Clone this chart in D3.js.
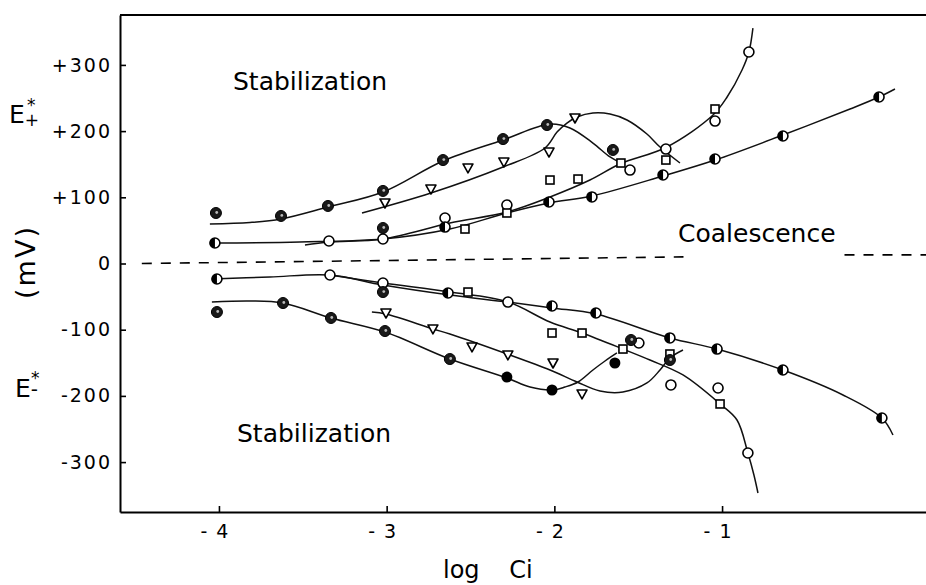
<!DOCTYPE html>
<html><head><meta charset="utf-8">
<script src="https://cdn.jsdelivr.net/npm/d3@7/dist/d3.min.js"></script>
<style>
body{margin:0;background:#fff}
svg{display:block;background:#fff}
text{font-family:"DejaVu Sans",sans-serif;fill:#000}
</style>
</head><body>
<svg id="c" width="926" height="585"></svg>
<script>
// ---------- axis ticks ----------
const xTicks = [-4, -3, -2, -1];
const xTickLabels = ["-4", "-3", "-2", "-1"];
const yTicks = [300, 200, 100, 0, -100, -200, -300];
const yTickLabels = ["+300", "+200", "+100", "0", "-100", "-200", "-300"];

// ---------- fitted curves (log Ci, mV) ----------
const curveAPosX = [-4.054, -3.815, -3.630, -3.350, -3.022, -2.664, -2.306, -2.026, -1.907, -1.770, -1.668, -1.591];
const curveAPosY = [59.7, 62.0, 67.2, 85.3, 108.0, 154.8, 186.6, 210.7, 204.7, 182.0, 160.9, 150.3];
const curveTPosX = [-3.147, -2.736, -2.306, -2.056, -1.984, -1.925, -1.865, -1.770, -1.668, -1.567, -1.448, -1.370, -1.251];
const curveTPosY = [76.3, 106.5, 145.8, 174.5, 198.6, 212.2, 221.3, 227.3, 225.8, 216.8, 195.6, 176.0, 151.8];
const curveOPosX = [-3.487, -3.344, -3.022, -2.623, -2.283, -2.026, -1.788, -1.609, -1.329, -1.054, -0.970, -0.881, -0.840, -0.816];
const curveOPosY = [27.9, 32.5, 37.0, 61.2, 77.8, 100.5, 126.1, 150.3, 176.0, 224.3, 251.5, 292.3, 319.5, 355.7];
const curveHPosX = [-4.024, -3.517, -3.022, -2.623, -2.283, -2.032, -1.776, -1.352, -1.042, -0.637, -0.237, -0.064, 0.031];
const curveHPosY = [31.0, 32.5, 37.0, 52.1, 76.3, 91.4, 102.0, 132.2, 156.3, 194.1, 233.4, 251.5, 263.6];

const curveFNegX = [-4.042, -3.815, -3.618, -3.332, -3.010, -2.623, -2.283, -2.145, -2.014, -1.937, -1.859, -1.770, -1.698, -1.627];
const curveFNegY = [-58.2, -56.6, -59.7, -82.3, -103.5, -144.3, -173.0, -186.6, -191.1, -186.6, -179.0, -160.9, -147.3, -135.2];
const curveTNegX = [-3.088, -3.004, -2.724, -2.623, -2.265, -2.026, -1.865, -1.728, -1.591, -1.448, -1.370, -1.311, -1.233];
const curveTNegY = [-73.3, -76.3, -98.9, -106.5, -138.2, -160.9, -179.0, -192.6, -194.1, -180.5, -160.9, -142.7, -130.7];
const curveONegX = [-3.338, -3.022, -2.623, -2.277, -2.026, -1.835, -1.591, -1.430, -1.233, -1.012, -0.911, -0.846, -0.810, -0.786];
const curveONegY = [-17.4, -29.5, -43.1, -58.2, -88.4, -105.0, -129.2, -145.8, -168.4, -212.2, -236.4, -286.3, -319.5, -346.7];
const curveHNegX = [-4.042, -3.696, -3.338, -3.022, -2.623, -2.277, -2.014, -1.752, -1.311, -1.030, -0.637, -0.279, -0.047, 0.019];
const curveHNegY = [-23.4, -20.4, -17.4, -32.5, -47.6, -58.2, -67.2, -76.3, -112.5, -129.2, -160.9, -198.6, -233.4, -259.1];

// ---------- dashed reference line ----------
const dashLeftX = [-4.46, -1.23];
const dashLeftY = [0, 10];
const dashRightX = [-0.27, 0.22];
const dashRightY = [13, 13];

// ---------- data points by symbol ----------
const hatchedX = [-4.018, -3.630, -3.350, -3.022, -2.664, -2.306, -2.044, -1.651, -3.022,
                  -4.012, -3.618, -3.332, -3.010, -2.623, -3.022, -1.543, -1.311];
const hatchedY = [76.3, 71.8, 86.9, 109.6, 156.3, 188.0, 209.2, 171.5, 53.6,
                  -73.3, -59.7, -82.3, -102.0, -144.3, -43.1, -115.6, -145.8];
const filledX = [-2.283, -2.014, -1.639];
const filledY = [-171.5, -191.1, -150.3];
const halfX = [-4.024, -2.652, -2.032, -1.776, -1.352, -1.042, -0.637, -0.064,
               -4.012, -2.634, -2.014, -1.752, -1.311, -1.030, -0.637, -0.047];
const halfY = [31.0, 55.1, 92.9, 100.5, 133.7, 157.9, 192.6, 251.5,
               -23.4, -44.6, -64.2, -74.8, -112.5, -129.2, -160.9, -233.4];
const openX = [-3.344, -3.022, -2.652, -2.283, -1.549, -1.335, -1.042, -0.840,
               -3.338, -3.022, -2.277, -1.496, -1.305, -1.024, -0.846];
const openY = [34.0, 37.0, 68.7, 88.4, 141.2, 172.9, 215.2, 319.5,
               -17.4, -29.5, -58.2, -120.1, -183.5, -188.1, -286.3];
const squareX = [-2.533, -2.283, -2.026, -1.859, -1.603, -1.335, -1.042,
                 -2.515, -2.014, -1.835, -1.591, -1.311, -1.012];
const squareY = [52.1, 76.3, 126.1, 127.6, 151.8, 156.3, 233.4,
                 -43.1, -105.0, -105.0, -129.2, -136.7, -212.2];
const triX = [-3.010, -2.736, -2.515, -2.301, -2.032, -1.877,
              -3.004, -2.724, -2.491, -2.277, -2.008, -1.835];
const triY = [91.4, 112.5, 144.3, 153.3, 168.4, 219.8,
              -74.8, -98.9, -126.1, -138.2, -150.3, -197.1];

// ---------- region labels ----------
const regionLabels = ["Stabilization", "Coalescence", "Stabilization"];

// ================= drawing =================
const svg = d3.select("#c");
const x = d3.scaleLinear().domain([-4.59, 0.216]).range([120, 926]);
const y = d3.scaleLinear().domain([-375.4, 375.4]).range([512, 15]);
const zip = (a, b) => a.map((v, i) => [v, b[i]]);

// axes
const axL = svg.append("g").attr("transform", "translate(120,0)")
  .call(d3.axisLeft(y).tickValues(yTicks).tickFormat((d, i) => yTickLabels[i])
        .tickSizeInner(-6).tickSizeOuter(0).tickPadding(8));
axL.attr("font-family", null).attr("font-size", null);
axL.selectAll("text").style("font-size", "19px").style("letter-spacing", "2px");

const axB = svg.append("g").attr("transform", "translate(0,512)")
  .call(d3.axisBottom(x).tickValues(xTicks).tickFormat((d, i) => xTickLabels[i])
        .tickSizeInner(-6).tickSizeOuter(0).tickPadding(13));
axB.attr("font-family", null).attr("font-size", null);
axB.selectAll("text").style("font-size", "19px").style("letter-spacing", "9px")
  .attr("text-anchor", "end").attr("dx", 18);

svg.selectAll(".domain").attr("stroke", "#000").attr("stroke-width", 2);
svg.selectAll(".tick line").attr("stroke", "#000").attr("stroke-width", 1.6);

// top frame line
svg.append("line").attr("x1", x.range()[0]).attr("x2", x.range()[1])
  .attr("y1", y.range()[1]).attr("y2", y.range()[1])
  .attr("stroke", "#000").attr("stroke-width", 2);

// dashed line
const lin = d3.line().x(d => x(d[0])).y(d => y(d[1]));
[[dashLeftX, dashLeftY], [dashRightX, dashRightY]].forEach(([a, b]) => {
  svg.append("path").attr("d", lin(zip(a, b))).attr("fill", "none")
    .attr("stroke", "#000").attr("stroke-width", 1.6).attr("stroke-dasharray", "10,9");
});

// fitted curves
const smooth = d3.line().x(d => x(d[0])).y(d => y(d[1])).curve(d3.curveCatmullRom.alpha(0.5));
[[curveAPosX, curveAPosY], [curveTPosX, curveTPosY], [curveOPosX, curveOPosY], [curveHPosX, curveHPosY],
 [curveFNegX, curveFNegY], [curveTNegX, curveTNegY], [curveONegX, curveONegY], [curveHNegX, curveHNegY]]
.forEach(([a, b]) => {
  svg.append("path").attr("d", smooth(zip(a, b))).attr("fill", "none")
    .attr("stroke", "#111").attr("stroke-width", 1.5);
});

// markers
const R = 5;
const g = svg.append("g");
g.selectAll(".open").data(zip(openX, openY)).join("circle")
  .attr("cx", d => x(d[0])).attr("cy", d => y(d[1])).attr("r", R)
  .attr("fill", "#fff").attr("stroke", "#000").attr("stroke-width", 1.6);
g.selectAll(".sq").data(zip(squareX, squareY)).join("rect")
  .attr("x", d => x(d[0]) - 4).attr("y", d => y(d[1]) - 4).attr("width", 8).attr("height", 8)
  .attr("fill", "#fff").attr("stroke", "#000").attr("stroke-width", 1.6);
g.selectAll(".tri").data(zip(triX, triY)).join("path")
  .attr("d", d => { const cx = x(d[0]), cy = y(d[1]);
    return `M${cx - 5},${cy - 4}L${cx + 5},${cy - 4}L${cx},${cy + 5}Z`; })
  .attr("fill", "#fff").attr("stroke", "#000").attr("stroke-width", 1.6).attr("stroke-linejoin", "round");
const hg = g.selectAll(".half").data(zip(halfX, halfY)).join("g")
  .attr("transform", d => `translate(${x(d[0])},${y(d[1])})`);
hg.append("circle").attr("r", R).attr("fill", "#fff").attr("stroke", "#000").attr("stroke-width", 1.6);
hg.append("path").attr("d", `M0,${-R}A${R},${R} 0 0 0 0,${R}Z`).attr("fill", "#000");
const hh = g.selectAll(".hat").data(zip(hatchedX, hatchedY)).join("g")
  .attr("transform", d => `translate(${x(d[0])},${y(d[1])})`);
hh.append("circle").attr("r", 5.5).attr("fill", "#1a1a1a").attr("stroke", "#000").attr("stroke-width", 1);
hh.append("circle").attr("r", 1.4).attr("cx", 0.8).attr("cy", -0.5).attr("fill", "#bbb");
g.selectAll(".fill").data(zip(filledX, filledY)).join("circle")
  .attr("cx", d => x(d[0])).attr("cy", d => y(d[1])).attr("r", 5.5).attr("fill", "#000");

// region labels
svg.append("text").attr("x", 233).attr("y", 90).style("font-size", "25px").text(regionLabels[0]);
svg.append("text").attr("x", 678).attr("y", 242).style("font-size", "25px").text(regionLabels[1]);
svg.append("text").attr("x", 237).attr("y", 442).style("font-size", "25px").text(regionLabels[2]);

// axis titles
svg.append("text").attr("x", 443).attr("y", 578).style("font-size", "24px")
  .style("word-spacing", "22px").text("log Ci");
svg.append("text").attr("transform", "translate(35,262) rotate(-90)").attr("text-anchor", "middle")
  .style("font-size", "27px").style("letter-spacing", "2px").text("(mV)");
// E+*
const ep = svg.append("text").attr("x", 9).attr("y", 123).style("font-size", "25px");
ep.append("tspan").text("E");
ep.append("tspan").style("font-size", "17px").attr("dy", 3).text("+");
ep.append("tspan").style("font-size", "17px").attr("dx", -12).attr("dy", -15).text("*");
// E-*
const em = svg.append("text").attr("x", 15).attr("y", 397).style("font-size", "25px");
em.append("tspan").text("E");
em.append("tspan").style("font-size", "20px").attr("dy", -1).text("-");
em.append("tspan").style("font-size", "17px").attr("dx", -7).attr("dy", -12).text("*");
</script>
</body></html>
